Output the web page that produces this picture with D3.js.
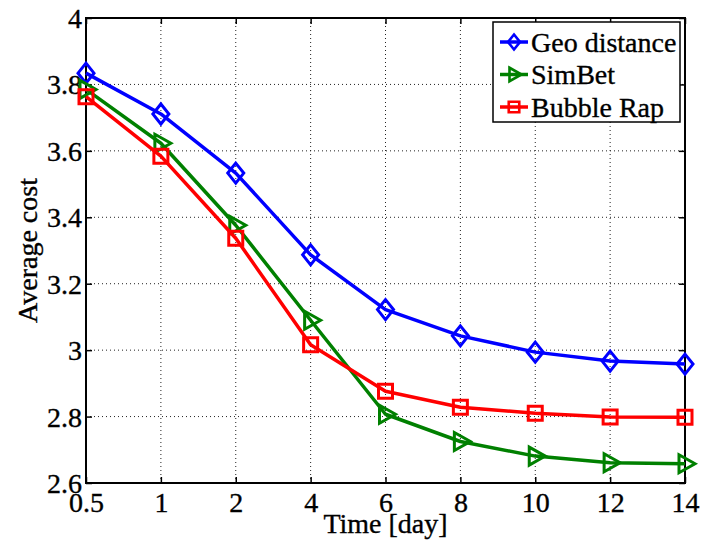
<!DOCTYPE html>
<html>
<head>
<meta charset="utf-8">
<script src="https://cdn.jsdelivr.net/npm/d3@7"></script>
<style>
  body { margin: 0; background: #fff; }
  svg text { font-family: "Liberation Serif", "Times New Roman", serif; fill: #000; stroke: #000; stroke-width: 0.35px; }
</style>
</head>
<body>
<svg id="chart" width="711" height="542"></svg>
<script>
const days = ["0.5", "1", "2", "4", "6", "8", "10", "12", "14"];
const geoDistance = [3.834, 3.711, 3.533, 3.287, 3.122, 3.043, 2.994, 2.967, 2.958];
const simBet = [3.785, 3.623, 3.376, 3.09, 2.807, 2.725, 2.681, 2.661, 2.658];
const bubbleRap = [3.763, 3.584, 3.337, 3.016, 2.876, 2.828, 2.81, 2.799, 2.798];
const yTicks = [2.6, 2.8, 3, 3.2, 3.4, 3.6, 3.8, 4];

const series = [
  { name: "Geo distance", values: geoDistance, color: "#0000ff", marker: "diamond" },
  { name: "SimBet", values: simBet, color: "#008000", marker: "triangle" },
  { name: "Bubble Rap", values: bubbleRap, color: "#ff0000", marker: "square" },
];

const margin = { left: 86, right: 26, top: 18, bottom: 59 };
const width = 711 - margin.left - margin.right;
const height = 542 - margin.top - margin.bottom;
const fontSize = 28;

const svg = d3.select("#chart");
const g = svg.append("g").attr("transform", `translate(${margin.left},${margin.top})`);

const x = d3.scalePoint().domain(days).range([0, width]);
const y = d3.scaleLinear().domain([2.6, 4]).range([height, 0]);

// grid
g.append("g")
  .selectAll("line")
  .data(days.slice(1, -1))
  .join("line")
  .attr("x1", (d) => x(d)).attr("x2", (d) => x(d))
  .attr("y1", 0).attr("y2", height)
  .attr("stroke", "#222").attr("stroke-width", 1).attr("stroke-dasharray", "1,3");
g.append("g")
  .selectAll("line")
  .data(yTicks.slice(1, -1))
  .join("line")
  .attr("x1", 0).attr("x2", width)
  .attr("y1", (d) => y(d)).attr("y2", (d) => y(d))
  .attr("stroke", "#222").attr("stroke-width", 1).attr("stroke-dasharray", "1,3");

// axes
const xAxis = g.append("g")
  .attr("transform", `translate(0,${height})`)
  .call(d3.axisBottom(x).tickSizeInner(-6).tickSizeOuter(0));
const yAxis = g.append("g")
  .call(d3.axisLeft(y).tickValues(yTicks).tickFormat(d3.format("~g")).tickSizeInner(-6).tickSizeOuter(0).tickPadding(4));
g.append("g")
  .call(d3.axisTop(x).tickSizeInner(-6).tickSizeOuter(0).tickFormat(""));
g.append("g")
  .attr("transform", `translate(${width},0)`)
  .call(d3.axisRight(y).tickValues(yTicks).tickSizeInner(-6).tickSizeOuter(0).tickFormat(""));
g.selectAll(".domain").remove();
g.selectAll(".tick line").attr("stroke", "#000").attr("stroke-width", 1.5);
xAxis.selectAll("text").attr("font-size", fontSize).attr("y", 29).attr("dy", 0);
yAxis.selectAll("text").attr("font-size", fontSize).attr("dy", "0.34em");

g.append("rect")
  .attr("width", width).attr("height", height)
  .attr("fill", "none").attr("stroke", "#000").attr("stroke-width", 2);

// lines
const line = d3.line().x((d, i) => x(days[i])).y((d) => y(d));

const markerPath = (type) => {
  if (type === "diamond") return "M0,-10L8,0L0,10L-8,0Z";
  if (type === "square") return "M-7,-7L7,-7L7,7L-7,7Z";
  return "M-6,-9L10,0L-6,9Z";
};

series.forEach((s) => {
  g.append("path")
    .datum(s.values)
    .attr("d", line)
    .attr("fill", "none")
    .attr("stroke", s.color)
    .attr("stroke-width", 3.5)
    .attr("stroke-linejoin", "round");
  g.append("g")
    .selectAll("path")
    .data(s.values)
    .join("path")
    .attr("transform", (d, i) => `translate(${x(days[i])},${y(d)})`)
    .attr("d", markerPath(s.marker))
    .attr("fill", "none")
    .attr("stroke", s.color)
    .attr("stroke-width", 3);
});

// axis labels
svg.append("text")
  .attr("x", margin.left + width / 2)
  .attr("y", 533)
  .attr("text-anchor", "middle")
  .attr("font-size", fontSize)
  .text("Time [day]");
svg.append("text")
  .attr("transform", `translate(37,${margin.top + height / 2}) rotate(-90)`)
  .attr("text-anchor", "middle")
  .attr("font-size", fontSize)
  .text("Average cost");

// legend
const legend = svg.append("g").attr("transform", "translate(493,22)");
legend.append("rect")
  .attr("width", 187).attr("height", 100)
  .attr("fill", "#fff").attr("stroke", "#000").attr("stroke-width", 1.5);
series.forEach((s, i) => {
  const ly = 20 + i * 32.5;
  const item = legend.append("g").attr("transform", `translate(0,${ly})`);
  item.append("line")
    .attr("x1", 7).attr("x2", 35).attr("y1", 0).attr("y2", 0)
    .attr("stroke", s.color).attr("stroke-width", 3.5);
  item.append("path")
    .attr("transform", "translate(21,0) scale(0.75)")
    .attr("d", markerPath(s.marker))
    .attr("fill", "none").attr("stroke", s.color).attr("stroke-width", 3.5);
  item.append("text")
    .attr("x", 38).attr("dy", "0.34em")
    .attr("font-size", fontSize)
    .text(s.name);
});
</script>
</body>
</html>
